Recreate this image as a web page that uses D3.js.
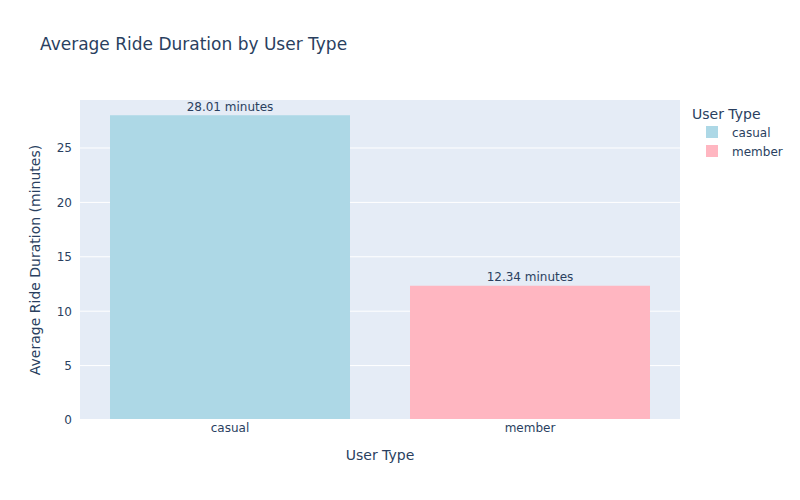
<!DOCTYPE html>
<html><head><meta charset="utf-8">
<script src="https://cdn.jsdelivr.net/npm/d3@7"></script>
<style>body{margin:0;background:#fff}text{font-family:"DejaVu Sans",verdana,arial,sans-serif}</style>
</head><body>
<svg id="c" width="800" height="500"></svg>
<script>
const categories = ["casual", "member"];
const values = [28.01, 12.34];
const labels = ["28.01 minutes", "12.34 minutes"];
const colors = ["#ADD8E6", "#FFB6C1"];
const yTicks = [0, 5, 10, 15, 20, 25];

const FONT = '"DejaVu Sans",verdana,arial,sans-serif';
const svg = d3.select("#c");
const m = {l: 80, r: 120, t: 100, b: 80};
const W = 800, H = 500;
const pw = W - m.l - m.r, ph = H - m.t - m.b;
const tc = "#2a3f5f";

svg.append("rect").attr("width", W).attr("height", H).attr("fill", "#fff");
const g = svg.append("g").attr("transform", `translate(${m.l},${m.t})`);
g.append("rect").attr("width", pw).attr("height", ph).attr("fill", "#E5ECF6");

const x = d3.scaleBand().domain(categories).range([0, pw]).paddingInner(0.2).paddingOuter(0.1);
const y = d3.scaleLinear().domain([0, d3.max(values) * 1.05]).range([ph, 0]);

// grid
g.selectAll(".grid").data(yTicks.filter(d => d > 0)).join("line")
  .attr("x1", 0).attr("x2", pw).attr("y1", d => y(d)).attr("y2", d => y(d))
  .attr("stroke", "#fff").attr("stroke-width", 1);

// bars
g.selectAll(".bar").data(categories).join("rect")
  .attr("x", d => x(d)).attr("width", x.bandwidth())
  .attr("y", (d, i) => y(values[i])).attr("height", (d, i) => ph - y(values[i]))
  .attr("fill", (d, i) => colors[i]);

// zero line
g.append("line").attr("x1", 0).attr("x2", pw).attr("y1", y(0)).attr("y2", y(0))
  .attr("stroke", "#fff").attr("stroke-width", 2);

// bar labels
g.selectAll(".bl").data(categories).join("text")
  .attr("x", d => x(d) + x.bandwidth() / 2).attr("y", (d, i) => y(values[i]) - 4.5)
  .attr("text-anchor", "middle").attr("font-size", 12).attr("fill", tc)
  .text((d, i) => labels[i]);

// y axis
const ya = g.append("g").call(d3.axisLeft(y).tickValues(yTicks).tickSize(0).tickPadding(8));
ya.select(".domain").remove();
ya.selectAll("text").attr("font-size", 12).attr("fill", tc).style("font-family", FONT);

// x axis
const xa = g.append("g").attr("transform", `translate(0,${ph})`).call(d3.axisBottom(x).tickSize(0).tickPadding(3.5));
xa.select(".domain").remove();
xa.selectAll("text").attr("font-size", 12).attr("fill", tc).style("font-family", FONT);

// axis titles
svg.append("text").attr("x", m.l + pw / 2).attr("y", 460).attr("text-anchor", "middle")
  .attr("font-size", 14).attr("fill", tc).text("User Type");
svg.append("text").attr("transform", `translate(40,${m.t + ph / 2}) rotate(-90)`).attr("text-anchor", "middle")
  .attr("font-size", 14).attr("fill", tc).text("Average Ride Duration (minutes)");

// title
svg.append("text").attr("x", 40).attr("y", 50).attr("font-size", 17).attr("fill", tc)
  .text("Average Ride Duration by User Type");

// legend
const lg = svg.append("g").attr("transform", "translate(692,0)");
lg.append("text").attr("x", 0).attr("y", 118.5).attr("font-size", 14).attr("fill", tc).text("User Type");
const items = lg.selectAll(".li").data(categories).join("g")
  .attr("transform", (d, i) => `translate(0,${132 + i * 19})`);
items.append("rect").attr("x", 14).attr("y", -6).attr("width", 12).attr("height", 12)
  .attr("fill", (d, i) => colors[i]);
items.append("text").attr("x", 40).attr("y", 4.5).attr("font-size", 12).attr("fill", tc).text(d => d);
</script>
</body></html>
